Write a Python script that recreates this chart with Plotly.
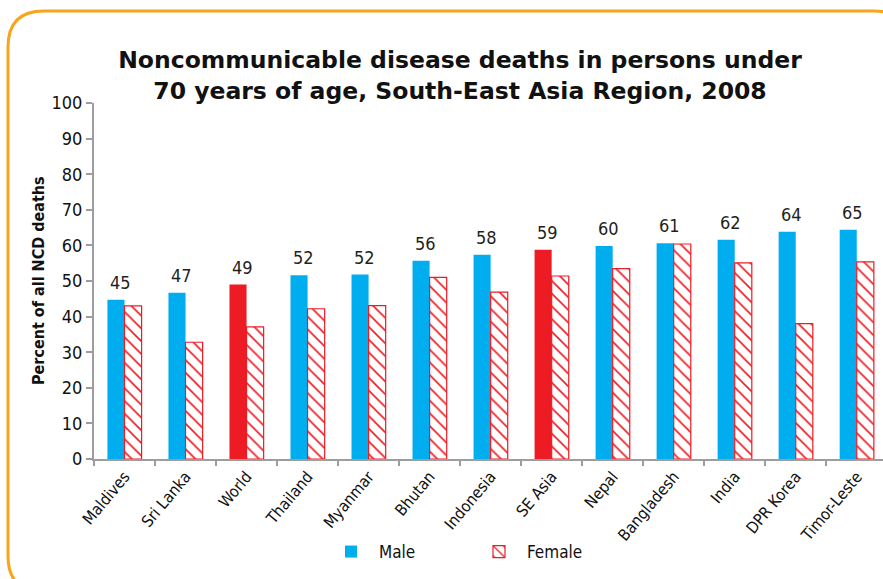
import plotly.graph_objects as go

categories = ["Maldives", "Sri Lanka", "World", "Thailand", "Myanmar", "Bhutan",
              "Indonesia", "SE Asia", "Nepal", "Bangladesh", "India", "DPR Korea", "Timor-Leste"]
male = [44.7, 46.7, 49.0, 51.6, 51.8, 55.7, 57.4, 58.8, 59.8, 60.6, 61.6, 63.8, 64.4]
female = [43.0, 32.8, 37.1, 42.2, 43.1, 51.0, 46.9, 51.4, 53.5, 60.4, 55.1, 38.0, 55.4]
male_labels = ["45", "47", "49", "52", "52", "56", "58", "59", "60", "61", "62", "64", "65"]
highlight = ["World", "SE Asia"]

BLUE = "#00AEEF"
RED = "#ED1C24"
GREY = "#9D9D9D"
NARROW = "Liberation Sans Narrow, Arial Narrow, DejaVu Sans Condensed, sans-serif"

W, H = 883, 579
ML, MR, MT, MB = 94, 0, 103, 120
PW, PH = W - ML - MR, H - MT - MB

male_colors = [RED if c in highlight else BLUE for c in categories]

fig = go.Figure()
fig.add_trace(go.Bar(
    x=categories, y=male, name="Male",
    marker=dict(color=male_colors, line=dict(width=0)),
))
fig.add_trace(go.Bar(
    x=categories, y=female, name="Female",
    marker=dict(color=RED, line=dict(color=RED, width=1.2),
                pattern=dict(shape="\\", fillmode="replace", bgcolor="white",
                             fgcolor=RED, size=9, solidity=0.18)),
))

annotations = []
for c, v, t in zip(categories, male, male_labels):
    annotations.append(dict(x=c, y=v, text=t, showarrow=False, xshift=-4, yshift=5,
                            yanchor="bottom", font=dict(family=NARROW, size=18, color="#231F20")))

annotations.append(dict(xref="paper", yref="paper", x=(38 - ML) / PW, y=0.5,
                        xanchor="center", yanchor="middle",
                        text="<b>Percent of all NCD deaths</b>", textangle=-90, showarrow=False,
                        font=dict(family=NARROW, size=16, color="#111")))


def px(xp):
    return (xp - ML) / PW


def py(yp):
    return (H - MB - yp) / PH


L, T, R, B, r = 8, 11, 910, 592, 36
path = (f"M {px(L)},{py(T + r)} Q {px(L)},{py(T)} {px(L + r)},{py(T)} "
        f"L {px(R - r)},{py(T)} Q {px(R)},{py(T)} {px(R)},{py(T + r)} "
        f"L {px(R)},{py(B - r)} Q {px(R)},{py(B)} {px(R - r)},{py(B)} "
        f"L {px(L + r)},{py(B)} Q {px(L)},{py(B)} {px(L)},{py(B - r)} Z")

fig.update_layout(
    width=W, height=H,
    margin=dict(l=ML, r=MR, t=MT, b=MB, autoexpand=False),
    paper_bgcolor="white", plot_bgcolor="white",
    barmode="group", bargap=0.44, bargroupgap=0,
    title=dict(text="<b>Noncommunicable disease deaths in persons under<br>70 years of age, South-East Asia Region, 2008</b>",
               x=460 / W, xanchor="center", xref="container",
               y=1 - 68 / H, yanchor="top", yref="container",
               font=dict(family="Verdana, DejaVu Sans, sans-serif", size=23.5, color="#111")),
    xaxis=dict(range=[-0.5, 12.43], showline=True, linecolor=GREY, linewidth=2,
               ticks="outside", tickson="boundaries", ticklen=5, tickcolor=GREY, tickwidth=2,
               tickangle=-50, tickfont=dict(family=NARROW, size=16, color="#111"),
               showgrid=False, zeroline=False),
    yaxis=dict(range=[0, 100], dtick=10, showline=True, linecolor=GREY, linewidth=2,
               ticks="outside", ticklen=6, tickcolor=GREY, tickwidth=2,
               tickfont=dict(family=NARROW, size=18, color="#111"),
               showgrid=False, zeroline=False),
    legend=dict(orientation="h", x=323 / W, xanchor="left", xref="container",
                y=1 - 552 / H, yanchor="middle", yref="container",
                itemwidth=46, entrywidth=87, entrywidthmode="pixels",
                font=dict(family=NARROW, size=17, color="#111")),
    annotations=annotations,
    shapes=[dict(type="path", path=path, xref="paper", yref="paper",
                 line=dict(color="#F8A51B", width=3), layer="below")],
)

fig.write_html("out.html", config={"displayModeBar": False},
               post_script="document.body.style.margin='0';")
